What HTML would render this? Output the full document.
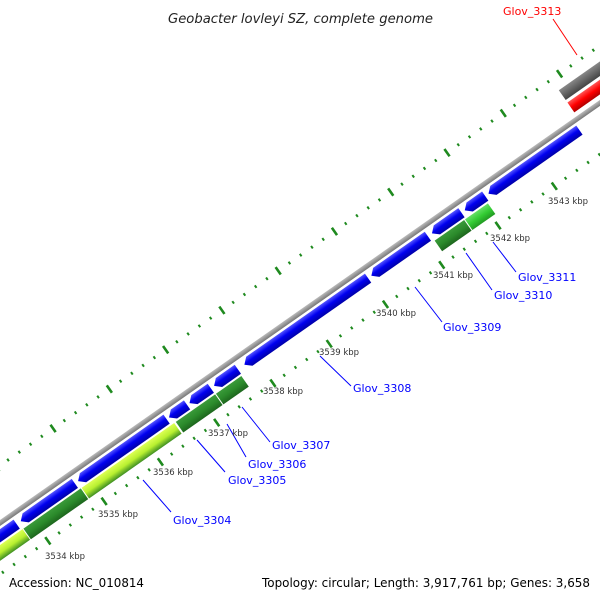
<!DOCTYPE html>
<html><head><meta charset="utf-8"><style>
html,body{margin:0;padding:0;background:#fff;width:600px;height:600px;overflow:hidden;}
svg{display:block;overflow:hidden;}
</style></head><body>
<svg width="600" height="600" viewBox="0 0 600 600" xmlns="http://www.w3.org/2000/svg">
<defs>
<clipPath id="cp"><rect x="0" y="0" width="600" height="600"/></clipPath>
<linearGradient id="bb" gradientUnits="userSpaceOnUse" x1="0" y1="-2.5" x2="0" y2="2.5"><stop offset="0" stop-color="#bbb"/><stop offset="1" stop-color="#777"/></linearGradient>
<linearGradient id="bl" gradientUnits="userSpaceOnUse" x1="0" y1="5" x2="0" y2="16"><stop offset="0" stop-color="#5555ff"/><stop offset="0.45" stop-color="#0000f0"/><stop offset="1" stop-color="#0000a8"/></linearGradient>
<linearGradient id="dg" gradientUnits="userSpaceOnUse" x1="0" y1="18" x2="0" y2="31"><stop offset="0" stop-color="#3a9a3a"/><stop offset="0.5" stop-color="#2b8a2b"/><stop offset="1" stop-color="#1d661d"/></linearGradient>
<linearGradient id="yg" gradientUnits="userSpaceOnUse" x1="0" y1="18" x2="0" y2="31"><stop offset="0" stop-color="#ddff55"/><stop offset="0.5" stop-color="#b8f030"/><stop offset="1" stop-color="#3f8f22"/></linearGradient>
<linearGradient id="lg" gradientUnits="userSpaceOnUse" x1="0" y1="18" x2="0" y2="31"><stop offset="0" stop-color="#66e066"/><stop offset="0.5" stop-color="#33cc33"/><stop offset="1" stop-color="#229922"/></linearGradient>
<linearGradient id="rd" gradientUnits="userSpaceOnUse" x1="0" y1="-19" x2="0" y2="-7"><stop offset="0" stop-color="#ff5555"/><stop offset="0.5" stop-color="#ff0000"/><stop offset="1" stop-color="#b00000"/></linearGradient>
<linearGradient id="gy" gradientUnits="userSpaceOnUse" x1="0" y1="-34" x2="0" y2="-22"><stop offset="0" stop-color="#888"/><stop offset="0.5" stop-color="#666"/><stop offset="1" stop-color="#444"/></linearGradient>
</defs>
<g clip-path="url(#cp)">
<g transform="translate(0,523) rotate(-35)">
  <line x1="-109.4" y1="42" x2="900" y2="42" stroke="#1f8a1f" stroke-width="3" stroke-dasharray="2 11.74"/>
  <line x1="-109.7" y1="42" x2="900" y2="42" stroke="#1f8a1f" stroke-width="9" stroke-dasharray="2.6 66.1"/>
  <line x1="-109.4" y1="-47" x2="900" y2="-47" stroke="#1f8a1f" stroke-width="3" stroke-dasharray="2 11.74"/>
  <line x1="-109.7" y1="-47" x2="900" y2="-47" stroke="#1f8a1f" stroke-width="9" stroke-dasharray="2.6 66.1"/>
  <rect x="-200" y="-2.5" width="1200" height="5" fill="url(#bb)"/>
  <rect x="706" y="-34" width="200" height="12" fill="url(#gy)"/>
  <rect x="706" y="-19" width="200" height="12" fill="url(#rd)"/>
  <g fill="url(#bl)">
    <polygon points="-100,5 13,5 13,16 -100,16"/>
    <polygon points="18,10.5 24,5 84,5 84,16 24,16"/>
    <polygon points="88,10.5 94,5 196,5 196,16 94,16"/>
    <polygon points="199,10.5 205,5 221,5 221,16 205,16"/>
    <polygon points="224,10.5 230,5 250,5 250,16 230,16"/>
    <polygon points="254,10.5 260,5 283,5 283,16 260,16"/>
    <polygon points="291,10.5 297,5 442,5 442,16 297,16"/>
    <polygon points="446,10.5 452,5 515,5 515,16 452,16"/>
    <polygon points="520,10.5 526,5 556,5 556,16 526,16"/>
    <polygon points="560,10.5 566,5 585,5 585,16 566,16"/>
    <polygon points="589,10.5 595,5 700,5 700,16 595,16"/>
  </g>
  <rect x="-100" y="18" width="115" height="13" fill="url(#yg)"/>
  <rect x="16" y="18" width="70" height="13" fill="url(#dg)"/>
  <rect x="87" y="18" width="113" height="13" fill="url(#yg)"/>
  <rect x="202" y="18" width="48" height="13" fill="url(#dg)"/>
  <rect x="251" y="18" width="31" height="13" fill="url(#dg)"/>
  <rect x="518" y="18" width="36" height="13" fill="url(#dg)"/>
  <rect x="555" y="18" width="28" height="13" fill="url(#lg)"/>
</g>
</g>
<g stroke="#0000ff" stroke-width="1">
  <line x1="143" y1="480" x2="171" y2="512"/>
  <line x1="197" y1="440" x2="225" y2="472"/>
  <line x1="227" y1="424" x2="246" y2="457"/>
  <line x1="242" y1="407" x2="270" y2="442"/>
  <line x1="320" y1="356" x2="351" y2="386"/>
  <line x1="415" y1="287" x2="442" y2="322"/>
  <line x1="466" y1="253" x2="492" y2="290"/>
  <line x1="493" y1="242" x2="516" y2="272"/>
</g>
<line x1="553" y1="19" x2="577" y2="55" stroke="#ff0000" stroke-width="1"/>
<g font-family="'DejaVu Sans','Liberation Sans',sans-serif" font-size="11" fill="#0000ff">
  <text x="173" y="524">Glov_3304</text>
  <text x="228" y="484">Glov_3305</text>
  <text x="248" y="468">Glov_3306</text>
  <text x="272" y="449">Glov_3307</text>
  <text x="353" y="392">Glov_3308</text>
  <text x="443" y="331">Glov_3309</text>
  <text x="494" y="299">Glov_3310</text>
  <text x="518" y="281">Glov_3311</text>
  <text x="503" y="15" fill="#ff0000">Glov_3313</text>
</g>
<g font-family="'DejaVu Sans','Liberation Sans',sans-serif" font-size="8.5" fill="#333">
  <text x="45" y="559">3534 kbp</text>
  <text x="98" y="517">3535 kbp</text>
  <text x="153" y="475">3536 kbp</text>
  <text x="208" y="436">3537 kbp</text>
  <text x="263" y="394">3538 kbp</text>
  <text x="319" y="355">3539 kbp</text>
  <text x="376" y="316">3540 kbp</text>
  <text x="433" y="278">3541 kbp</text>
  <text x="490" y="241">3542 kbp</text>
  <text x="548" y="204">3543 kbp</text>
</g>
<text x="168" y="23" font-family="'DejaVu Sans','Liberation Sans',sans-serif" font-size="13" font-style="italic" fill="#222" textLength="265" lengthAdjust="spacingAndGlyphs">Geobacter lovleyi SZ, complete genome</text>
<g font-family="'DejaVu Sans','Liberation Sans',sans-serif" font-size="12.5" fill="#000">
  <text x="9" y="587" textLength="135" lengthAdjust="spacingAndGlyphs">Accession: NC_010814</text>
  <text x="262" y="587" textLength="328" lengthAdjust="spacingAndGlyphs">Topology: circular; Length: 3,917,761 bp; Genes: 3,658</text>
</g>
</svg>
</body></html>
